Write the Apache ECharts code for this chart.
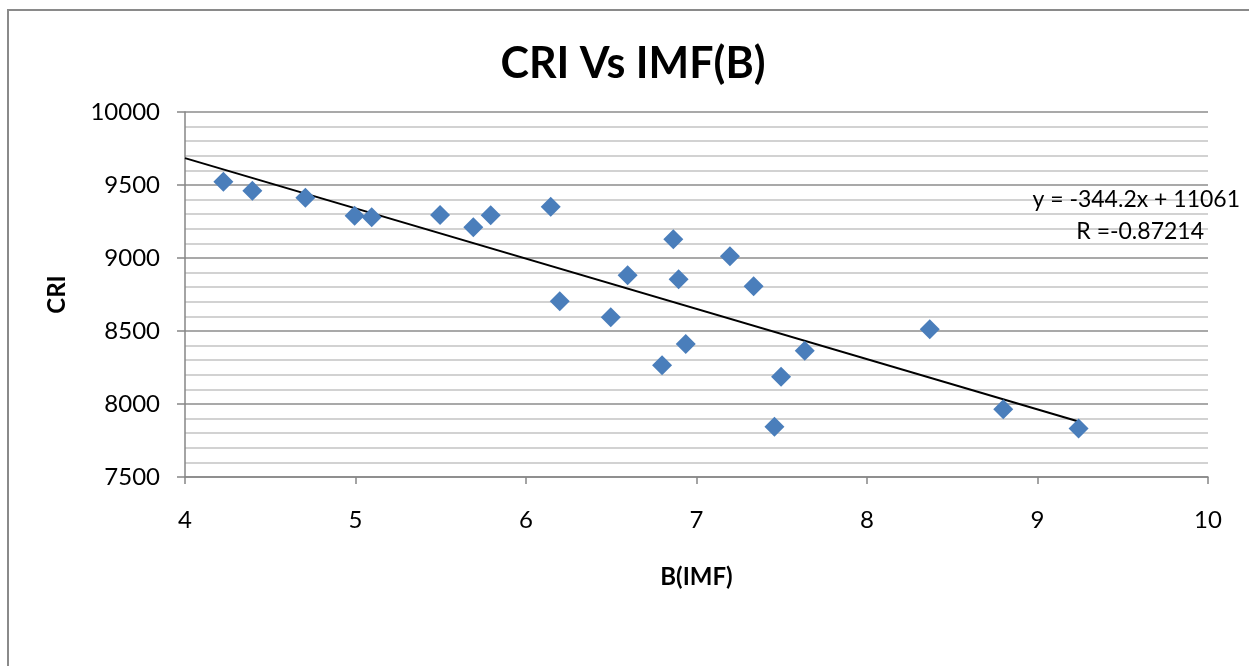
<!DOCTYPE html>
<html>
<head>
<meta charset="utf-8">
<script src="https://cdn.jsdelivr.net/npm/echarts@6/dist/echarts.min.js"></script>
<style>
html,body{margin:0;padding:0;background:#fff;}
#chart{width:1249px;height:666px;}
</style>
</head>
<body>
<div id="chart"></div>
<script>
// Data
var bIMF = [4.225, 4.395, 4.706, 4.995, 5.095, 5.496, 5.691, 5.793, 6.145, 6.198, 6.497, 6.596, 6.798, 6.864, 6.895, 6.937, 7.196, 7.335, 7.457, 7.496, 7.635, 8.368, 8.799, 9.241];
var cri  = [9523, 9461, 9413, 9290, 9279, 9295, 9210, 9292, 9351, 8703, 8594, 8882, 8265, 9128, 8854, 8411, 9012, 8806, 7845, 8187, 8365, 8512, 7964, 7833];
var trendSlope = -344.2;
var trendIntercept = 11061;
var trendX = [4, 9.241];
var trendLabel = 'y = -344.2x + 11061';
var rLabel = 'R =-0.87214';
var xTicks = [4, 5, 6, 7, 8, 9, 10];
var yTicks = [7500, 8000, 8500, 9000, 9500, 10000];

var points = bIMF.map(function (x, i) { return [x, cri[i]]; });
var trend = trendX.map(function (x) { return [x, trendSlope * x + trendIntercept]; });

var FONT = 'Lato';
var chart = echarts.init(document.getElementById('chart'));
chart.setOption({
  backgroundColor: '#fff',
  animation: false,
  title: {
    text: 'CRI Vs IMF(B)',
    left: 628, top: 38, textAlign: 'center',
    textStyle: { fontFamily: FONT, fontWeight: 'bold', fontSize: 43, color: '#000' }
  },
  grid: { left: 185, right: 41, top: 112, bottom: 189, containLabel: false },
  xAxis: {
    type: 'value', min: xTicks[0], max: xTicks[xTicks.length - 1], interval: 1,
    name: 'B(IMF)', nameLocation: 'middle', nameGap: 88,
    nameTextStyle: { fontFamily: FONT, fontWeight: 'bold', fontSize: 24, color: '#000' },
    axisLine: { show: true, lineStyle: { color: '#868686', width: 1.5 } },
    axisTick: { show: true, length: 7, lineStyle: { color: '#868686', width: 1.5 } },
    axisLabel: { fontFamily: FONT, fontSize: 24, color: '#000', margin: 31,
      formatter: function (v) { return String(v); } },
    splitLine: { show: false }
  },
  yAxis: {
    type: 'value', min: yTicks[0], max: yTicks[yTicks.length - 1], interval: 500,
    name: 'CRI', nameLocation: 'middle', nameGap: 116, nameRotate: 90,
    nameTextStyle: { fontFamily: FONT, fontWeight: 'bold', fontSize: 24, color: '#000' },
    axisLine: { show: true, lineStyle: { color: '#868686', width: 1.5 } },
    axisTick: { show: true, length: 8, lineStyle: { color: '#868686', width: 1.5 } },
    axisLabel: { fontFamily: FONT, fontSize: 24, color: '#000', margin: 25,
      formatter: function (v) { return String(v); } },
    splitLine: { show: true, lineStyle: { color: '#8c8c8c', width: 1.5 } },
    minorTick: { show: false, splitNumber: 5 },
    minorSplitLine: { show: true, lineStyle: { color: '#c4c4c4', width: 1.5 } }
  },
  series: [
    {
      type: 'line', data: trend, showSymbol: false, symbol: 'none',
      lineStyle: { color: '#000', width: 2 }, z: 3, silent: true
    },
    {
      type: 'scatter', data: points, symbol: 'diamond', symbolSize: 20,
      itemStyle: { color: '#4a7ebb', opacity: 1 }, z: 4
    }
  ],
  graphic: [
    { type: 'rect', shape: { x: 8, y: 10, width: 1300, height: 700 },
      style: { fill: 'none', stroke: '#8a8a8a', lineWidth: 2 }, silent: true, z: -1 },
    { type: 'text', x: 1240, y: 200, z: 10,
      style: { text: trendLabel, fontFamily: FONT, fontSize: 23, fill: '#000', align: 'right', verticalAlign: 'middle' } },
    { type: 'text', x: 1204, y: 232, z: 10,
      style: { text: rLabel, fontFamily: FONT, fontSize: 23, fill: '#000', align: 'right', verticalAlign: 'middle' } }
  ]
});
</script>
</body>
</html>
